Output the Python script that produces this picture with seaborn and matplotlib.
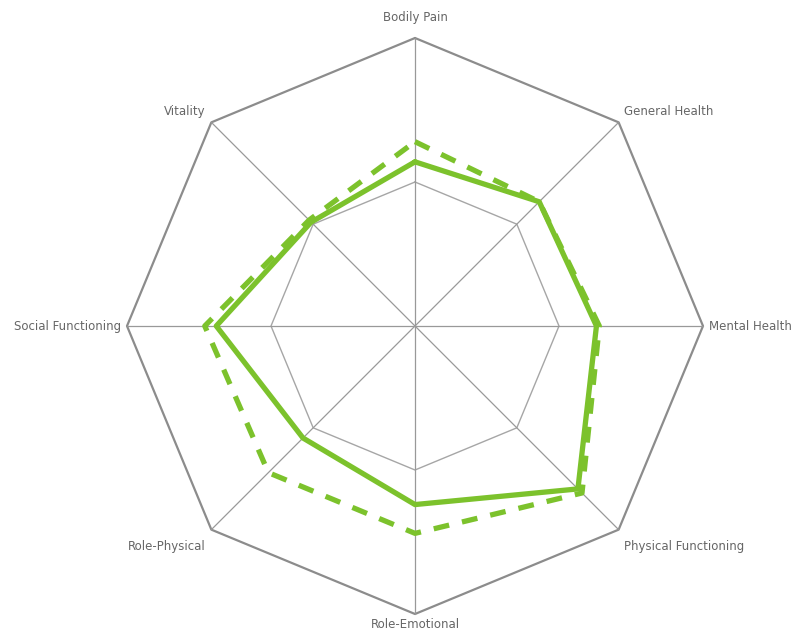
"""Radar chart of SF-36 domain scores, two series on an octagonal grid."""

import numpy as np
import pandas as pd
import matplotlib
matplotlib.use('Agg')
import matplotlib.pyplot as plt
import seaborn as sns

## DATA
CATEGORIES = ['Bodily Pain', 'General Health', 'Mental Health', 'Physical Functioning',
              'Role-Emotional', 'Role-Physical', 'Social Functioning', 'Vitality']
SOLID_VALUES = [57, 61, 63, 80, 62, 55, 69, 51]
DASHED_VALUES = [64, 61, 64, 82, 72, 72, 73, 52]
GRID_LEVELS = [50, 100]
MAX_VALUE = 100

## SETTINGS
GREEN = '#7cc22c'
GRID_COLOR = '#999999'
LABEL_COLOR = '#666666'


def to_xy(values):
    """Map radar values to cartesian points (clockwise from top), closing the loop."""
    n_cat = len(values)
    angles = np.pi / 2 - 2 * np.pi * np.arange(n_cat) / n_cat
    rad = np.asarray(values, dtype=float) / MAX_VALUE
    x_pts = rad * np.cos(angles)
    y_pts = rad * np.sin(angles)
    return np.append(x_pts, x_pts[0]), np.append(y_pts, y_pts[0])


sns.set_style('white')
plt.rcParams['font.family'] = ['DejaVu Sans']

fig = plt.figure(figsize=(7.92, 6.34), dpi=100)
ax = fig.add_axes([0, 0, 1, 1])

# Grid: octagons plus spokes
for level in GRID_LEVELS:
    gx, gy = to_xy([level] * len(CATEGORIES))
    outer = level == MAX_VALUE
    ax.plot(gx, gy, color='#8c8c8c' if outer else '#a6a6a6',
            lw=1.6 if outer else 1.0, zorder=1)
sx, sy = to_xy([MAX_VALUE] * len(CATEGORIES))
for xv, yv in zip(sx[:-1], sy[:-1]):
    ax.plot([0, xv], [0, yv], color=GRID_COLOR, lw=0.9, zorder=1)

# Series
solid_x, solid_y = to_xy(SOLID_VALUES)
dashed_x, dashed_y = to_xy(DASHED_VALUES)
df_solid = pd.DataFrame({'x': solid_x, 'y': solid_y})
df_dashed = pd.DataFrame({'x': dashed_x, 'y': dashed_y})

sns.lineplot(data=df_solid, x='x', y='y', sort=False, estimator=None, ax=ax,
             color=GREEN, lw=3.8, zorder=3)
sns.lineplot(data=df_dashed, x='x', y='y', sort=False, estimator=None, ax=ax,
             color=GREEN, lw=3.8, linestyle=(0, (3.0, 2.5)), zorder=3)

# Category labels
for label, xv, yv in zip(CATEGORIES, sx[:-1], sy[:-1]):
    if abs(xv) < 1e-6:
        ha = 'center'
        if yv > 0:
            va, tx, ty = 'bottom', xv, yv + 0.05
        else:
            va, tx, ty = 'top', xv, yv - 0.015
    else:
        ha = 'left' if xv > 0 else 'right'
        tx = xv + (0.02 if xv > 0 else -0.02)
        if abs(yv) < 1e-6:
            va, ty = 'center', yv
        elif yv > 0:
            va, ty = 'bottom', yv + 0.015
        else:
            va, ty = 'top', yv - 0.035
    ax.text(tx, ty, label, ha=ha, va=va, fontsize=8.5, color=LABEL_COLOR)

ax.set(xlim=(-415 / 288, 377 / 288), ylim=(-308 / 288, 326 / 288))
ax.set_aspect('equal')
ax.axis('off')

fig.savefig('out.png', dpi=100)
